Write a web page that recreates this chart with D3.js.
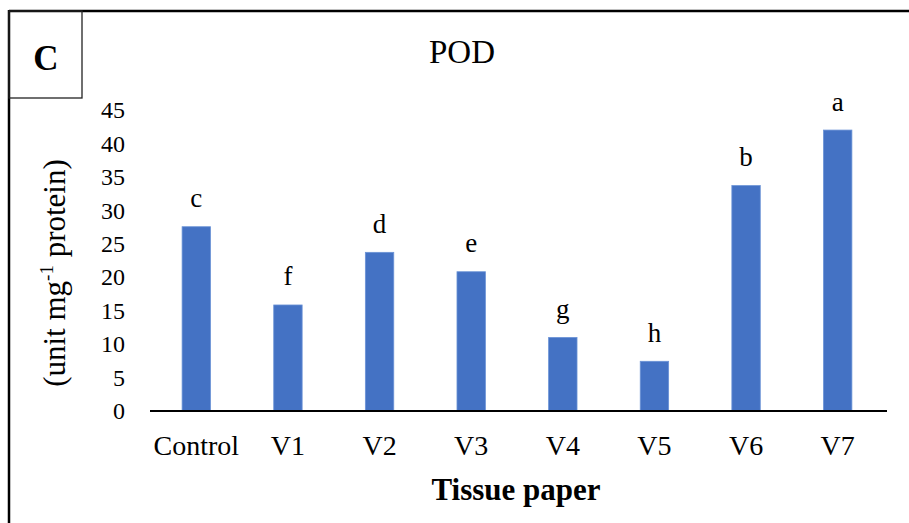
<!DOCTYPE html>
<html>
<head>
<meta charset="utf-8">
<script src="https://cdn.jsdelivr.net/npm/d3@7"></script>
<style>
  html, body { margin: 0; padding: 0; background: #fff; }
  svg { display: block; }
  svg text { font-family: "Liberation Serif", "Times New Roman", serif !important; fill: #000; }
</style>
</head>
<body>
<svg id="chart" width="909" height="523"></svg>
<script>
// POD activity per tissue paper treatment
const categories = ["Control", "V1", "V2", "V3", "V4", "V5", "V6", "V7"];
const podValues = [27.55, 15.85, 23.72, 20.82, 11.0, 7.43, 33.7, 42.0];
const groupLetters = ["c", "f", "d", "e", "g", "h", "b", "a"];
const yTicks = [0, 5, 10, 15, 20, 25, 30, 35, 40, 45];

const svg = d3.select("#chart");

// panel frame (top and left edges) and the corner label box
svg.append("line").attr("x1", 9).attr("x2", 909).attr("y1", 11).attr("y2", 11)
  .attr("stroke", "#000").attr("stroke-width", 2.5);
svg.append("line").attr("x1", 9).attr("x2", 9).attr("y1", 10).attr("y2", 523)
  .attr("stroke", "#000").attr("stroke-width", 2.5);
svg.append("rect").attr("x", 9).attr("y", 11).attr("width", 73).attr("height", 87)
  .attr("fill", "none").attr("stroke", "#222").attr("stroke-width", 1.3);
svg.append("text").attr("x", 46).attr("y", 70).attr("text-anchor", "middle")
  .attr("font-size", 35).attr("font-weight", "bold").text("C");

const x = d3.scaleBand().domain(categories).range([150.5, 883.5])
  .paddingInner(0.69).paddingOuter(0.345);
const y = d3.scaleLinear().domain([0, 45]).range([411, 110]);

// title
svg.append("text").attr("x", 462).attr("y", 63).attr("text-anchor", "middle")
  .attr("font-size", 33).text("POD");

// y tick labels (no axis line or tick marks)
const yAxis = d3.axisLeft(y).tickValues(yTicks).tickSize(0).tickPadding(0);
const gy = svg.append("g").attr("transform", "translate(125,0)").call(yAxis)
  .attr("font-family", null).attr("font-size", null);
gy.select(".domain").remove();
gy.selectAll("text").attr("font-size", 24).attr("fill", "#000");

// y axis title
svg.append("text")
  .attr("transform", "translate(65,273) rotate(-90)")
  .attr("text-anchor", "middle").attr("font-size", 31)
  .call(t => {
    t.append("tspan").text("(unit mg");
    t.append("tspan").attr("font-size", 19).attr("dy", -12).text("-1");
    t.append("tspan").attr("dy", 12).text(" protein)");
  });

// bars
svg.append("g").selectAll("rect").data(categories).join("rect")
  .attr("x", d => x(d))
  .attr("width", x.bandwidth())
  .attr("y", (d, i) => y(podValues[i]))
  .attr("height", (d, i) => y(0) - y(podValues[i]))
  .attr("fill", "#4472C4")
  .attr("stroke", "#6b93d6").attr("stroke-width", 0.8);

// significance letters
svg.append("g").selectAll("text").data(categories).join("text")
  .attr("x", d => x(d) + x.bandwidth() / 2)
  .attr("y", (d, i) => y(podValues[i]) - 19.5)
  .attr("text-anchor", "middle").attr("font-size", 27)
  .text((d, i) => groupLetters[i]);

// x axis baseline and category labels
const xAxis = d3.axisBottom(x).tickSize(0).tickPadding(0);
const gx = svg.append("g").attr("transform", "translate(0,411)").call(xAxis)
  .attr("font-family", null).attr("font-size", null);
gx.select(".domain").attr("d", "M150,0H887").attr("stroke", "#000").attr("stroke-width", 2);
gx.selectAll("text").attr("font-size", 28).attr("fill", "#000")
  .attr("dy", null).attr("y", 44);

// x axis title
svg.append("text").attr("x", 516).attr("y", 500).attr("text-anchor", "middle")
  .attr("font-size", 31).attr("font-weight", "bold").text("Tissue paper");
</script>
</body>
</html>
